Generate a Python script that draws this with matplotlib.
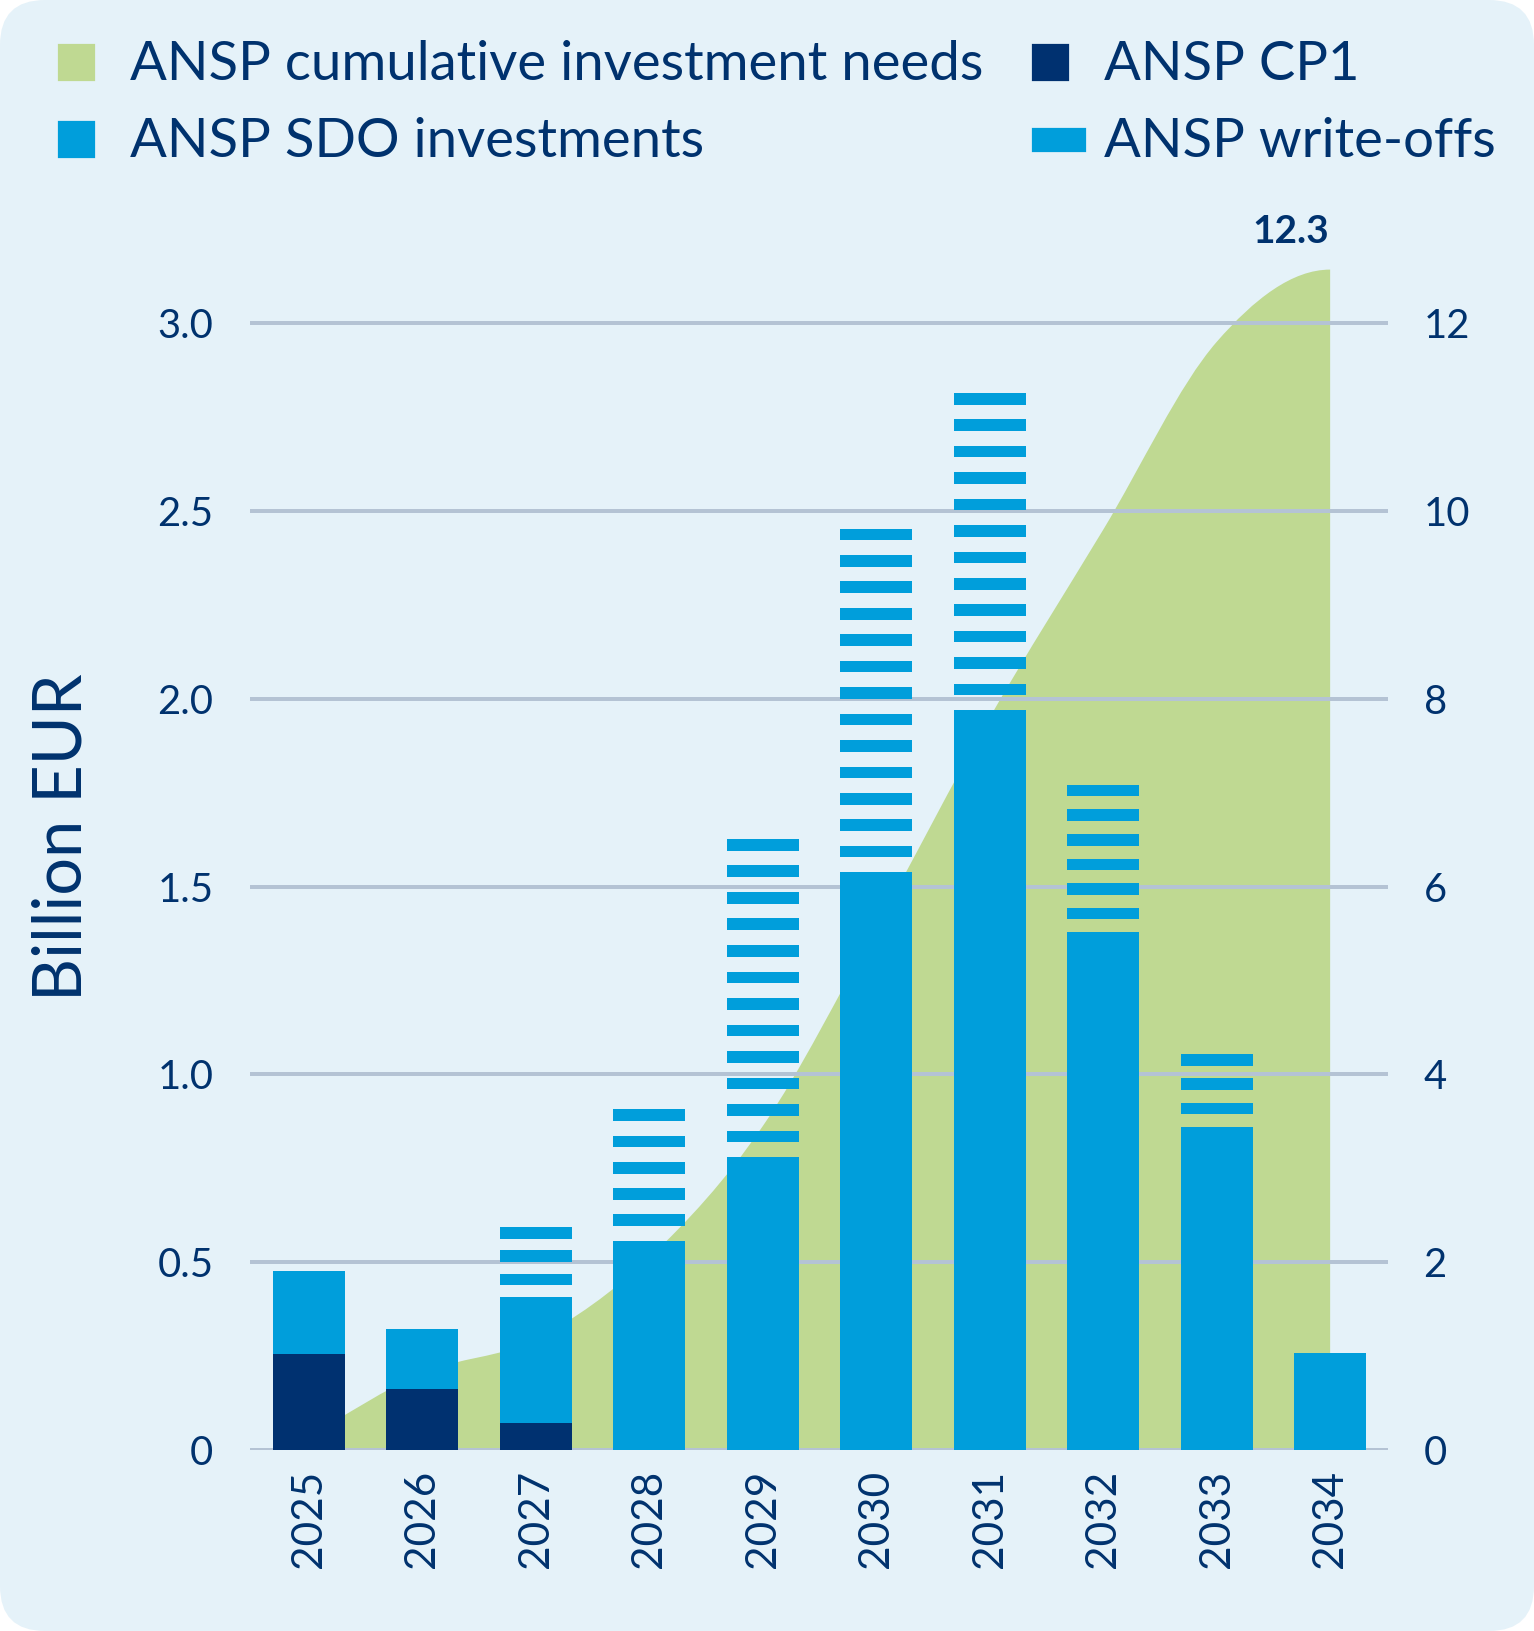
import numpy as np
import matplotlib
matplotlib.use('Agg')
import matplotlib.pyplot as plt
from matplotlib.patches import Patch, Rectangle, FancyBboxPatch, PathPatch
from matplotlib.path import Path
from matplotlib.legend_handler import HandlerPatch
from matplotlib.transforms import IdentityTransform

# data (billion EUR, left axis)
years = ['2025', '2026', '2027', '2028', '2029', '2030', '2031', '2032', '2033', '2034']
cp1 = [0.255, 0.163, 0.072, 0, 0, 0, 0, 0, 0, 0]
sdo = [0.221, 0.159, 0.336, 0.557, 0.779, 1.538, 1.970, 1.378, 0.860, 0.257]
write_offs = [0, 0, 0.185, 0.350, 0.848, 0.915, 0.844, 0.393, 0.194, 0]
# cumulative needs (right axis)
cumulative_needs = [0.15, 0.82, 1.18, 2.05, 3.45, 5.57, 7.8, 9.8, 11.8, 12.57]
total_label = '12.3'

left_ticks = [0, 0.5, 1.0, 1.5, 2.0, 2.5, 3.0]
left_ticklabels = ['0', '0.5', '1.0', '1.5', '2.0', '2.5', '3.0']
right_ticks = [0, 2, 4, 6, 8, 10, 12]

NAVY = '#003170'
BLUE = '#009EDB'
GREEN = '#BFD992'
BG = '#E5F2F9'
GRID = '#B4C3D4'
TXT = '#00326E'

plt.rcParams['font.family'] = ['Lato', 'DejaVu Sans']

W, H, DPI = 1534, 1631, 160
fig = plt.figure(figsize=(W / DPI, H / DPI), dpi=DPI)
fig.patch.set_facecolor('white')
fig.add_artist(FancyBboxPatch((0, 0), W, H, boxstyle='round,pad=0,rounding_size=45',
                              transform=IdentityTransform(), facecolor=BG,
                              edgecolor='none', zorder=-10))

ax = fig.add_axes([250 / W, 1 - 1450 / H, 1138 / W, (1450 - 248) / H])
ax2 = ax.twinx()
ax.set_zorder(2)
ax2.set_zorder(1)
ax.patch.set_visible(False)
ax2.patch.set_visible(False)

x = np.arange(len(years))
bw = 0.635


def smooth_area(xs, ys):
    # smooth (cardinal) curve through the points, flat at the end, closed on the baseline
    pts = np.column_stack([xs, ys]).astype(float)
    n = len(pts)
    m = np.zeros_like(pts)
    m[1:-1] = (pts[2:] - pts[:-2]) / 2
    m[0] = pts[1] - pts[0]
    m[-1] = (pts[-1][0] - pts[-2][0], 0.0)
    verts = [pts[0]]
    codes = [Path.MOVETO]
    for i in range(n - 1):
        verts += [pts[i] + m[i] / 3, pts[i + 1] - m[i + 1] / 3, pts[i + 1]]
        codes += [Path.CURVE4] * 3
    verts += [(xs[-1], 0), (xs[0], 0), (xs[0], 0)]
    codes += [Path.LINETO, Path.LINETO, Path.CLOSEPOLY]
    return Path(verts, codes)


ax2.add_patch(PathPatch(smooth_area(x, cumulative_needs), facecolor=GREEN,
                        edgecolor='none', transform=ax2.transData))
ax2.annotate(total_label, xy=(x[-1], cumulative_needs[-1]), xytext=(-17.5, 12),
             textcoords='offset points', ha='center', va='baseline',
             fontsize=17.5, fontweight='bold', color=TXT)

cp1 = np.array(cp1)
sdo = np.array(sdo)
write_offs = np.array(write_offs)
ax.bar(x, cp1, bw, color=NAVY, linewidth=0)
ax.bar(x, sdo, bw, bottom=cp1, color=BLUE, linewidth=0)

# striped write-offs: stripes fitted to each bar, from the top down
period, thick = 0.0709, 0.031
base = cp1 + sdo
for xi, b, w in zip(x, base, write_offs):
    if w <= 0:
        continue
    n = max(1, int(round(w / period)))
    tops = b + w - (w / n) * np.arange(n)
    ax.bar(np.full(n, xi), thick, bw, bottom=tops - thick, color=BLUE, linewidth=0)

ax.set_xlim(-0.52, 9.51)
ax.set_ylim(0, 3.2)
ax2.set_ylim(0, 12.8)
ax.set_yticks(left_ticks)
ax.set_yticklabels(left_ticklabels)
ax2.set_yticks(right_ticks)
ax.set_xticks(x)
ax.set_xticklabels(years, rotation=90)

ax.set_axisbelow(True)
ax.yaxis.grid(True, color=GRID, linewidth=1.8)
ax.xaxis.grid(False)
for a in (ax, ax2):
    for s in a.spines.values():
        s.set_visible(False)
ax.tick_params(axis='y', length=0, labelsize=18, colors=TXT, pad=16.5)
ax.tick_params(axis='x', length=0, labelsize=19, colors=TXT, pad=9)
ax2.tick_params(axis='y', length=0, labelsize=18, colors=TXT, pad=16)

ax.set_ylabel('Billion EUR', fontsize=30, color=TXT)
ax.yaxis.set_label_coords(-0.165, 0.51)
ax.yaxis.label.set_verticalalignment('center')


def square(legend, orig_handle, xdescent, ydescent, width, height, fontsize):
    s = 0.65 * fontsize
    return Rectangle((-xdescent, -ydescent), s, s)


def flat(legend, orig_handle, xdescent, ydescent, width, height, fontsize):
    w, h = 0.96 * fontsize, 0.4 * fontsize
    return Rectangle((-xdescent, -ydescent + (0.65 * fontsize - h) / 2), w, h)


h_needs = Patch(color=GREEN, label='ANSP cumulative investment needs')
h_sdo = Patch(color=BLUE, label='ANSP SDO investments')
h_cp1 = Patch(color=NAVY, label='ANSP CP1')
h_wo = Patch(color=BLUE, label='ANSP write-offs')
sq = HandlerPatch(patch_func=square)
ax.legend(handles=[h_needs, h_sdo, h_cp1, h_wo], ncol=2, frameon=False,
          loc='upper left', bbox_to_anchor=(59 / W, 1 - 40 / H),
          bbox_transform=fig.transFigure, fontsize=24.5, labelcolor=TXT,
          handlelength=0.96, handleheight=0.7, handletextpad=0.35,
          columnspacing=0.9, labelspacing=0.52, borderpad=0, borderaxespad=0,
          handler_map={h_needs: sq, h_sdo: sq, h_cp1: sq,
                       h_wo: HandlerPatch(patch_func=flat)})

fig.savefig('out.png', dpi=DPI, facecolor='white')
